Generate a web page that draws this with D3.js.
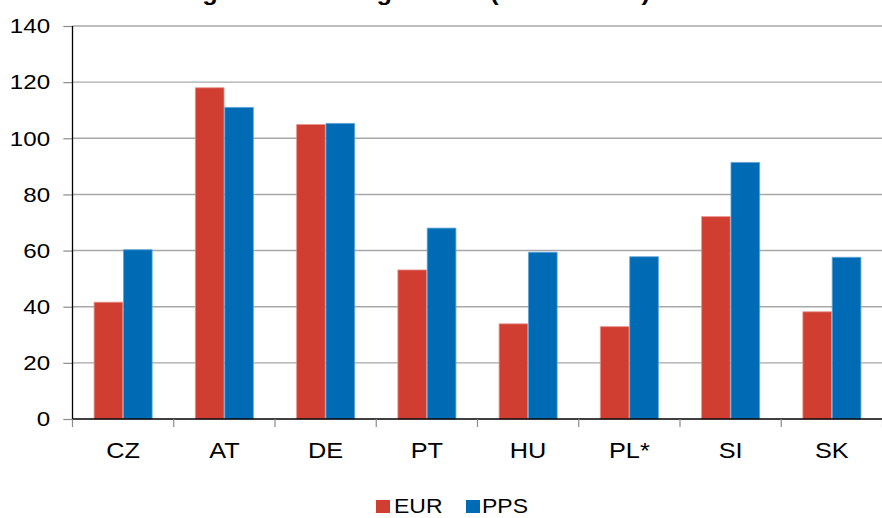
<!DOCTYPE html>
<html>
<head>
<meta charset="utf-8">
<script src="https://cdn.jsdelivr.net/npm/d3@7"></script>
<style>
  html, body { margin: 0; padding: 0; background: #fff; }
  svg { display: block; }
  text { font-family: "Liberation Sans", Arial, sans-serif; fill: #000; }
</style>
</head>
<body>
<svg id="chart"></svg>
<script>
const categories = ["CZ", "AT", "DE", "PT", "HU", "PL*", "SI", "SK"];
const seriesNames = ["EUR", "PPS"];
const eurValues = [41.6, 118.0, 104.9, 53.1, 33.9, 32.9, 72.1, 38.2];
const ppsValues = [60.3, 111.0, 105.3, 68.0, 59.4, 57.8, 91.4, 57.6];
const seriesColors = ["#CF3E30", "#006BB5"];
const seriesStrokes = ["#E8928A", "#5FA3DA"];
const yTicks = [0, 20, 40, 60, 80, 100, 120, 140];
const titleText = "Average nominal wage levels (EU-28 = 100)";

const WIDTH = 882, HEIGHT = 518;
const SX = 1.15;               // horizontal stretch of the original rendering
const W = WIDTH / SX;          // internal drawing width

const svg = d3.select("#chart")
  .attr("width", WIDTH).attr("height", HEIGHT)
  .attr("viewBox", `0 0 ${W} ${HEIGHT}`)
  .attr("preserveAspectRatio", "none");

const plotLeft = 72.5 / SX, plotRight = 882.5 / SX;
const y = d3.scaleLinear().domain([0, 140]).range([419, 26]);
const x = d3.scaleBand().domain(categories).range([plotLeft, plotRight])
  .paddingInner(0.42).paddingOuter(0.21);
const xs = d3.scaleBand().domain(seriesNames).range([0, x.bandwidth()]);

const data = categories.map((c, i) => ({ cat: c, values: [eurValues[i], ppsValues[i]] }));

// title (cut off at top, as in the reference)
svg.append("text")
  .attr("x", 133 / SX).attr("y", 0)
  .attr("font-size", 22).attr("font-weight", "bold")
  .text(titleText);

// gridlines
svg.append("g").selectAll("line").data(yTicks.filter(d => d > 0)).join("line")
  .attr("x1", plotLeft).attr("x2", W)
  .attr("y1", d => y(d)).attr("y2", d => y(d))
  .attr("stroke", "#a8a8a8").attr("stroke-width", 1.4);

// y axis
const yAxis = svg.append("g").attr("transform", `translate(${plotLeft},0)`)
  .call(d3.axisLeft(y).tickValues(yTicks).tickSize(8).tickPadding(11.5).tickFormat(d3.format("d")));
yAxis.select(".domain").remove();
yAxis.selectAll(".tick line").attr("stroke", "#8c8c8c").attr("stroke-width", 1.2);
yAxis.selectAll(".tick text").attr("font-size", 21)
  .style("font-family", '"Liberation Sans", Arial, sans-serif').attr("fill", "#000");

// bars
const groups = svg.append("g").selectAll("g").data(data).join("g")
  .attr("transform", d => `translate(${x(d.cat)},0)`);
groups.selectAll("rect").data(d => d.values.map((v, i) => ({ s: seriesNames[i], v, i })))
  .join("rect")
  .attr("x", d => xs(d.s) + 0.3)
  .attr("width", xs.bandwidth() - 0.6)
  .attr("y", d => y(d.v))
  .attr("height", d => y(0) - y(d.v))
  .attr("fill", d => seriesColors[d.i])
  .attr("stroke", d => seriesStrokes[d.i])
  .attr("stroke-width", 0.8)
  .attr("vector-effect", "non-scaling-stroke");

// y axis line
svg.append("line")
  .attr("x1", plotLeft).attr("x2", plotLeft).attr("y1", y(140)).attr("y2", y(0))
  .attr("stroke", "#000").attr("stroke-width", 1.3).attr("vector-effect", "non-scaling-stroke");

// x axis line
svg.append("line")
  .attr("x1", plotLeft).attr("x2", W).attr("y1", y(0)).attr("y2", y(0))
  .attr("stroke", "#000").attr("stroke-width", 1.5);

// x boundary ticks
const boundaries = d3.range(categories.length + 1).map(i => plotLeft + i * x.step());
svg.append("g").selectAll("line").data(boundaries).join("line")
  .attr("x1", d => d).attr("x2", d => d)
  .attr("y1", y(0)).attr("y2", y(0) + 8)
  .attr("stroke", "#8c8c8c").attr("stroke-width", 1.2).attr("vector-effect", "non-scaling-stroke");

// category labels
svg.append("g").selectAll("text").data(categories).join("text")
  .attr("x", d => x(d) + x.bandwidth() / 2)
  .attr("y", 458)
  .attr("text-anchor", "middle")
  .attr("font-size", 22)
  .text(d => d);

// legend
const legendItems = [
  { name: seriesNames[0], color: seriesColors[0], rx: 376, tx: 394 },
  { name: seriesNames[1], color: seriesColors[1], rx: 466, tx: 482 }
];
const lg = svg.append("g");
lg.selectAll("rect").data(legendItems).join("rect")
  .attr("x", d => d.rx / SX).attr("y", 500)
  .attr("width", 14 / SX).attr("height", 13)
  .attr("fill", d => d.color);
lg.selectAll("text").data(legendItems).join("text")
  .attr("x", d => d.tx / SX).attr("y", 513)
  .attr("font-size", 20)
  .text(d => d.name);
</script>
</body>
</html>
